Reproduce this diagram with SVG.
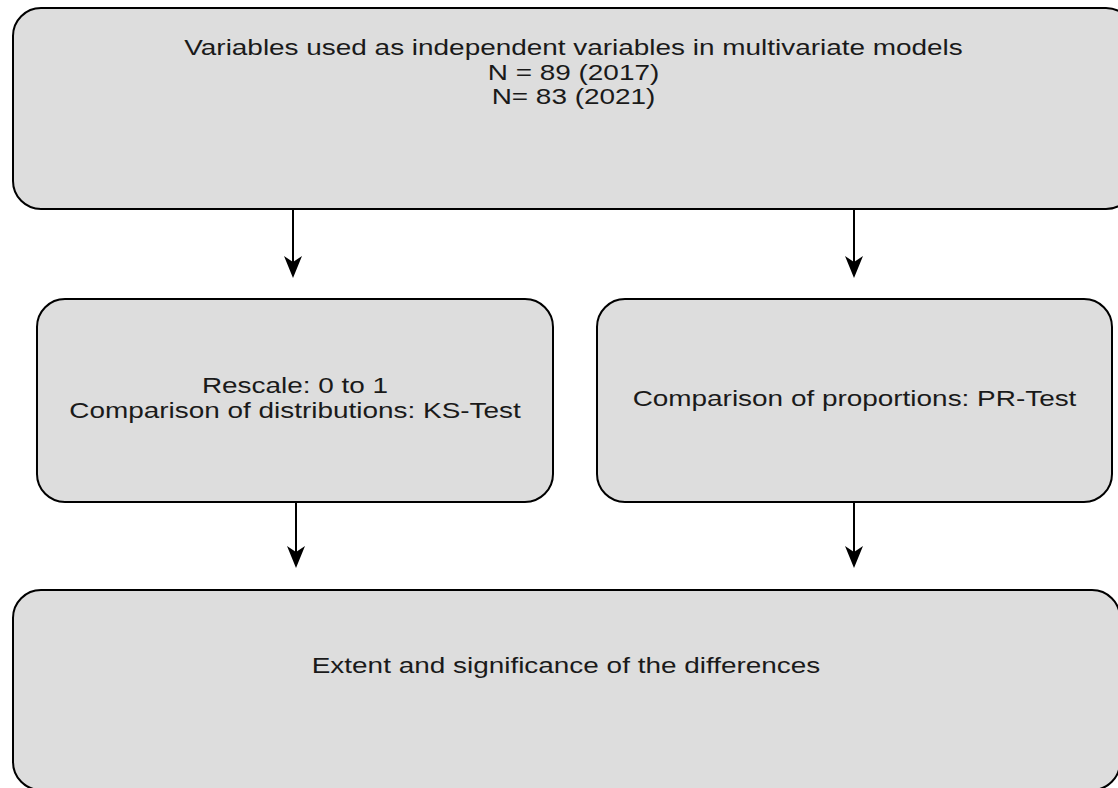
<svg xmlns="http://www.w3.org/2000/svg" width="1118" height="788" viewBox="0 0 1118 788">
  <style>
    .box { fill: #dddddd; stroke: #000000; stroke-width: 2; }
    .label { font-family: "Liberation Sans", Arial, sans-serif; font-size: 22px; fill: #1a1a1a; text-anchor: middle; }
    .edge { stroke: #000000; stroke-width: 2; fill: none; marker-end: url(#arrow); }
  </style>
  <defs>
    <marker id="arrow" viewBox="0 0 22 18" refX="6" refY="9" markerWidth="22" markerHeight="18" markerUnits="userSpaceOnUse" orient="auto">
      <path d="M0,0 L22,9 L0,18 L6,9 Z" fill="#000000"/>
    </marker>
  </defs>

  <rect width="1118" height="788" fill="#ffffff"/>

  <g id="node-variables">
    <rect class="box" x="13" y="8" width="1121" height="201" rx="28" ry="28"/>
    <text class="label" transform="translate(573.5 55) scale(1.27 1)">Variables used as independent variables in multivariate models</text>
    <text class="label" transform="translate(573.5 80) scale(1.27 1)">N = 89 (2017)</text>
    <text class="label" transform="translate(573.5 104) scale(1.27 1)">N= 83 (2021)</text>
  </g>

  <g id="node-ks-test">
    <rect class="box" x="37" y="299" width="516" height="203" rx="28" ry="28"/>
    <text class="label" transform="translate(295 393) scale(1.27 1)">Rescale: 0 to 1</text>
    <text class="label" transform="translate(295 418) scale(1.27 1)">Comparison of distributions: KS-Test</text>
  </g>

  <g id="node-pr-test">
    <rect class="box" x="597" y="299" width="515" height="203" rx="28" ry="28"/>
    <text class="label" transform="translate(854.5 406) scale(1.27 1)">Comparison of proportions: PR-Test</text>
  </g>

  <g id="node-differences">
    <rect class="box" x="13" y="590" width="1107" height="200" rx="28" ry="28"/>
    <text class="label" transform="translate(566 673) scale(1.27 1)">Extent and significance of the differences</text>
  </g>

  <g id="connectors">
    <line class="edge" x1="293" y1="209" x2="293" y2="262"/>
    <line class="edge" x1="854" y1="209" x2="854" y2="262"/>
    <line class="edge" x1="296" y1="502" x2="296" y2="552"/>
    <line class="edge" x1="854" y1="502" x2="854" y2="552"/>
  </g>
</svg>
